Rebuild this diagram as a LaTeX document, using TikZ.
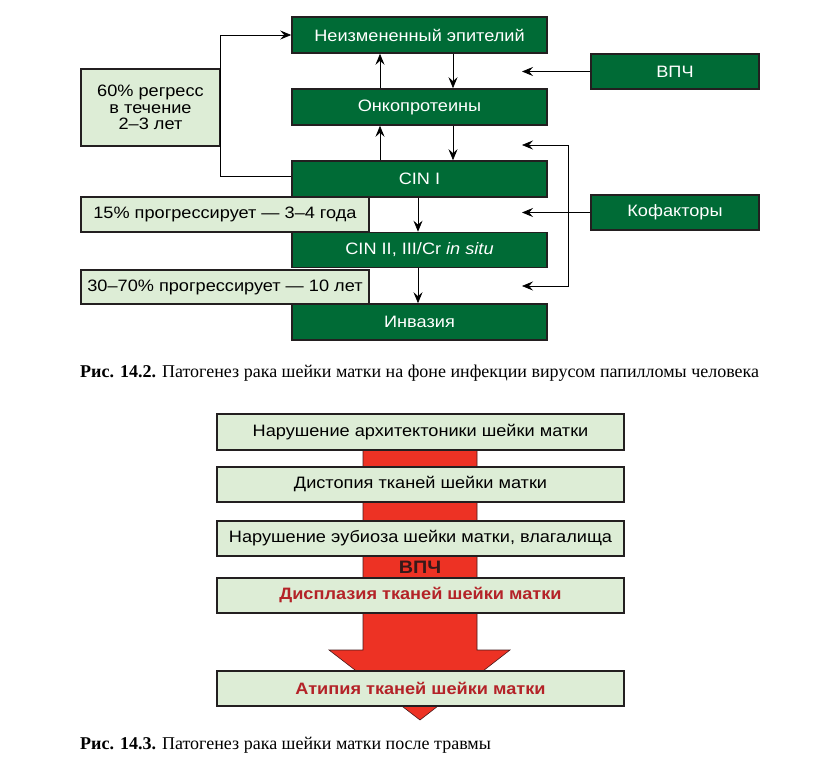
\documentclass[tikz,border=0pt]{standalone}
\usepackage{fontspec}
\setmainfont[FakeStretch=1.1]{Liberation Sans}
\newfontfamily\capfont{Liberation Serif}
\usetikzlibrary{arrows.meta}
\definecolor{dkgreen}{RGB}{0,107,54}
\definecolor{ltgreen}{RGB}{221,237,214}
\definecolor{bordc}{RGB}{35,31,32}
\definecolor{redc}{RGB}{237,50,36}
\definecolor{dkred}{RGB}{180,35,40}
\definecolor{vpchc}{RGB}{55,25,25}
\begin{document}
\begin{tikzpicture}[x=1pt,y=-1pt,
  gbox/.style={draw=bordc, line width=1.6pt, fill=dkgreen, text=white, inner sep=0pt,
    font=\fontsize{16.5}{16.5}\selectfont},
  lbox/.style={draw=bordc, line width=1.6pt, fill=ltgreen, text=black, inner sep=0pt,
    font=\fontsize{16.5}{16.5}\selectfont},
  tip/.tip={Stealth[length=11pt,width=9pt,inset=4pt]},
  arr/.style={-tip, line width=0.7pt, draw=black},
  arrboth/.style={tip-tip, line width=0.7pt, draw=black},
  capt/.style={anchor=west, inner sep=0pt, font=\capfont\fontsize{18}{20}\selectfont},
]
\useasboundingbox (0,0) rectangle (825,778);

% ---------- Figure 14.2 ----------
\node[gbox, minimum width=255, minimum height=36] (ne)   at (419.5,35)  {Неизмененный эпителий};
\node[gbox, minimum width=255, minimum height=36] (onko) at (419.5,107) {Онкопротеины};
\node[gbox, minimum width=255, minimum height=36] (cin1) at (419.5,179) {CIN I};
\node[gbox, minimum width=255, minimum height=35] (cin2) at (419.5,250) {CIN II, III/Cr \textit{in situ}};
\node[gbox, minimum width=255, minimum height=36] (inv)  at (419.5,322) {Инвазия};

\node[lbox, minimum width=139, minimum height=77, align=center] (regress) at (150.5,107.5)
  {60\% регресс\\в течение\\2–3 лет};
\node[lbox, minimum width=288, minimum height=35] (p15) at (225,214.5) {15\% прогрессирует — 3–4 года};
\node[lbox, minimum width=288, minimum height=34] (p30) at (225,287) {30–70\% прогрессирует — 10 лет};

\node[gbox, minimum width=168, minimum height=35] (vpch) at (675,71.5)  {ВПЧ};
\node[gbox, minimum width=168, minimum height=35] (kof)  at (675,212.5) {Кофакторы};

\draw[arr] ([xshift=-39.5]onko.north) -- ([xshift=-39.5]ne.south);
\draw[arr] ([xshift=33.5]ne.south) -- ([xshift=33.5]onko.north);
\draw[arr] ([xshift=-39.5]cin1.north) -- ([xshift=-39.5]onko.south);
\draw[arr] ([xshift=33.5]onko.south) -- ([xshift=33.5]cin1.north);
\draw[arr] ([xshift=-1.5]cin1.south) -- ([xshift=-1.5]cin2.north);
\draw[arr] ([xshift=-1.5]cin2.south) -- ([xshift=-1.5]inv.north);

\draw[arr] ([yshift=3]cin1.west) -| (regress.east) |- (ne.west);

\coordinate (t1) at (522,71.5);
\coordinate (t2) at (522,212.5);
\coordinate (t3) at (522,145);
\coordinate (t4) at (522,286);
\draw[arr] (vpch.west) -- (t1);
\draw[arr] (kof.west) -- (t2);
\draw[arrboth] (t3) -- ++(46,0) |- (t4);

\node[capt] (cap1) at (80,373) {\textbf{Рис. 14.2.} Патогенез рака шейки матки на фоне инфекции вирусом папилломы человека};

% ---------- Figure 14.3 ----------
\path[fill=redc, draw=bordc!85!red, line width=0.6pt]
  (363,445) -- (477,445) -- (477,650) -- (510,650) -- (420,720) -- (329,650) -- (363,650) -- cycle;

\node[lbox, minimum width=407, minimum height=36] (b1) at (420.5,432)   {Нарушение архитектоники шейки матки};
\node[lbox, minimum width=407, minimum height=35] (b2) at (420.5,484.5) {Дистопия тканей шейки матки};
\node[lbox, minimum width=407, minimum height=35] (b3) at (420.5,538.5) {Нарушение эубиоза шейки матки, влагалища};
\node[lbox, minimum width=407, minimum height=35, text=dkred, font=\bfseries\fontsize{16.5}{16.5}\selectfont] (b4) at (420.5,595.5) {Дисплазия тканей шейки матки};
\node[lbox, minimum width=407, minimum height=35, text=dkred, font=\bfseries\fontsize{16.5}{16.5}\selectfont] (b5) at (420.5,688.5) {Атипия тканей шейки матки};

\node[text=vpchc, font=\bfseries\fontsize{18}{18}\selectfont, inner sep=0pt] (vlab) at (420,567) {ВПЧ};

\node[capt] (cap2) at (80,745) {\textbf{Рис. 14.3.} Патогенез рака шейки матки после травмы};
\end{tikzpicture}
\end{document}
